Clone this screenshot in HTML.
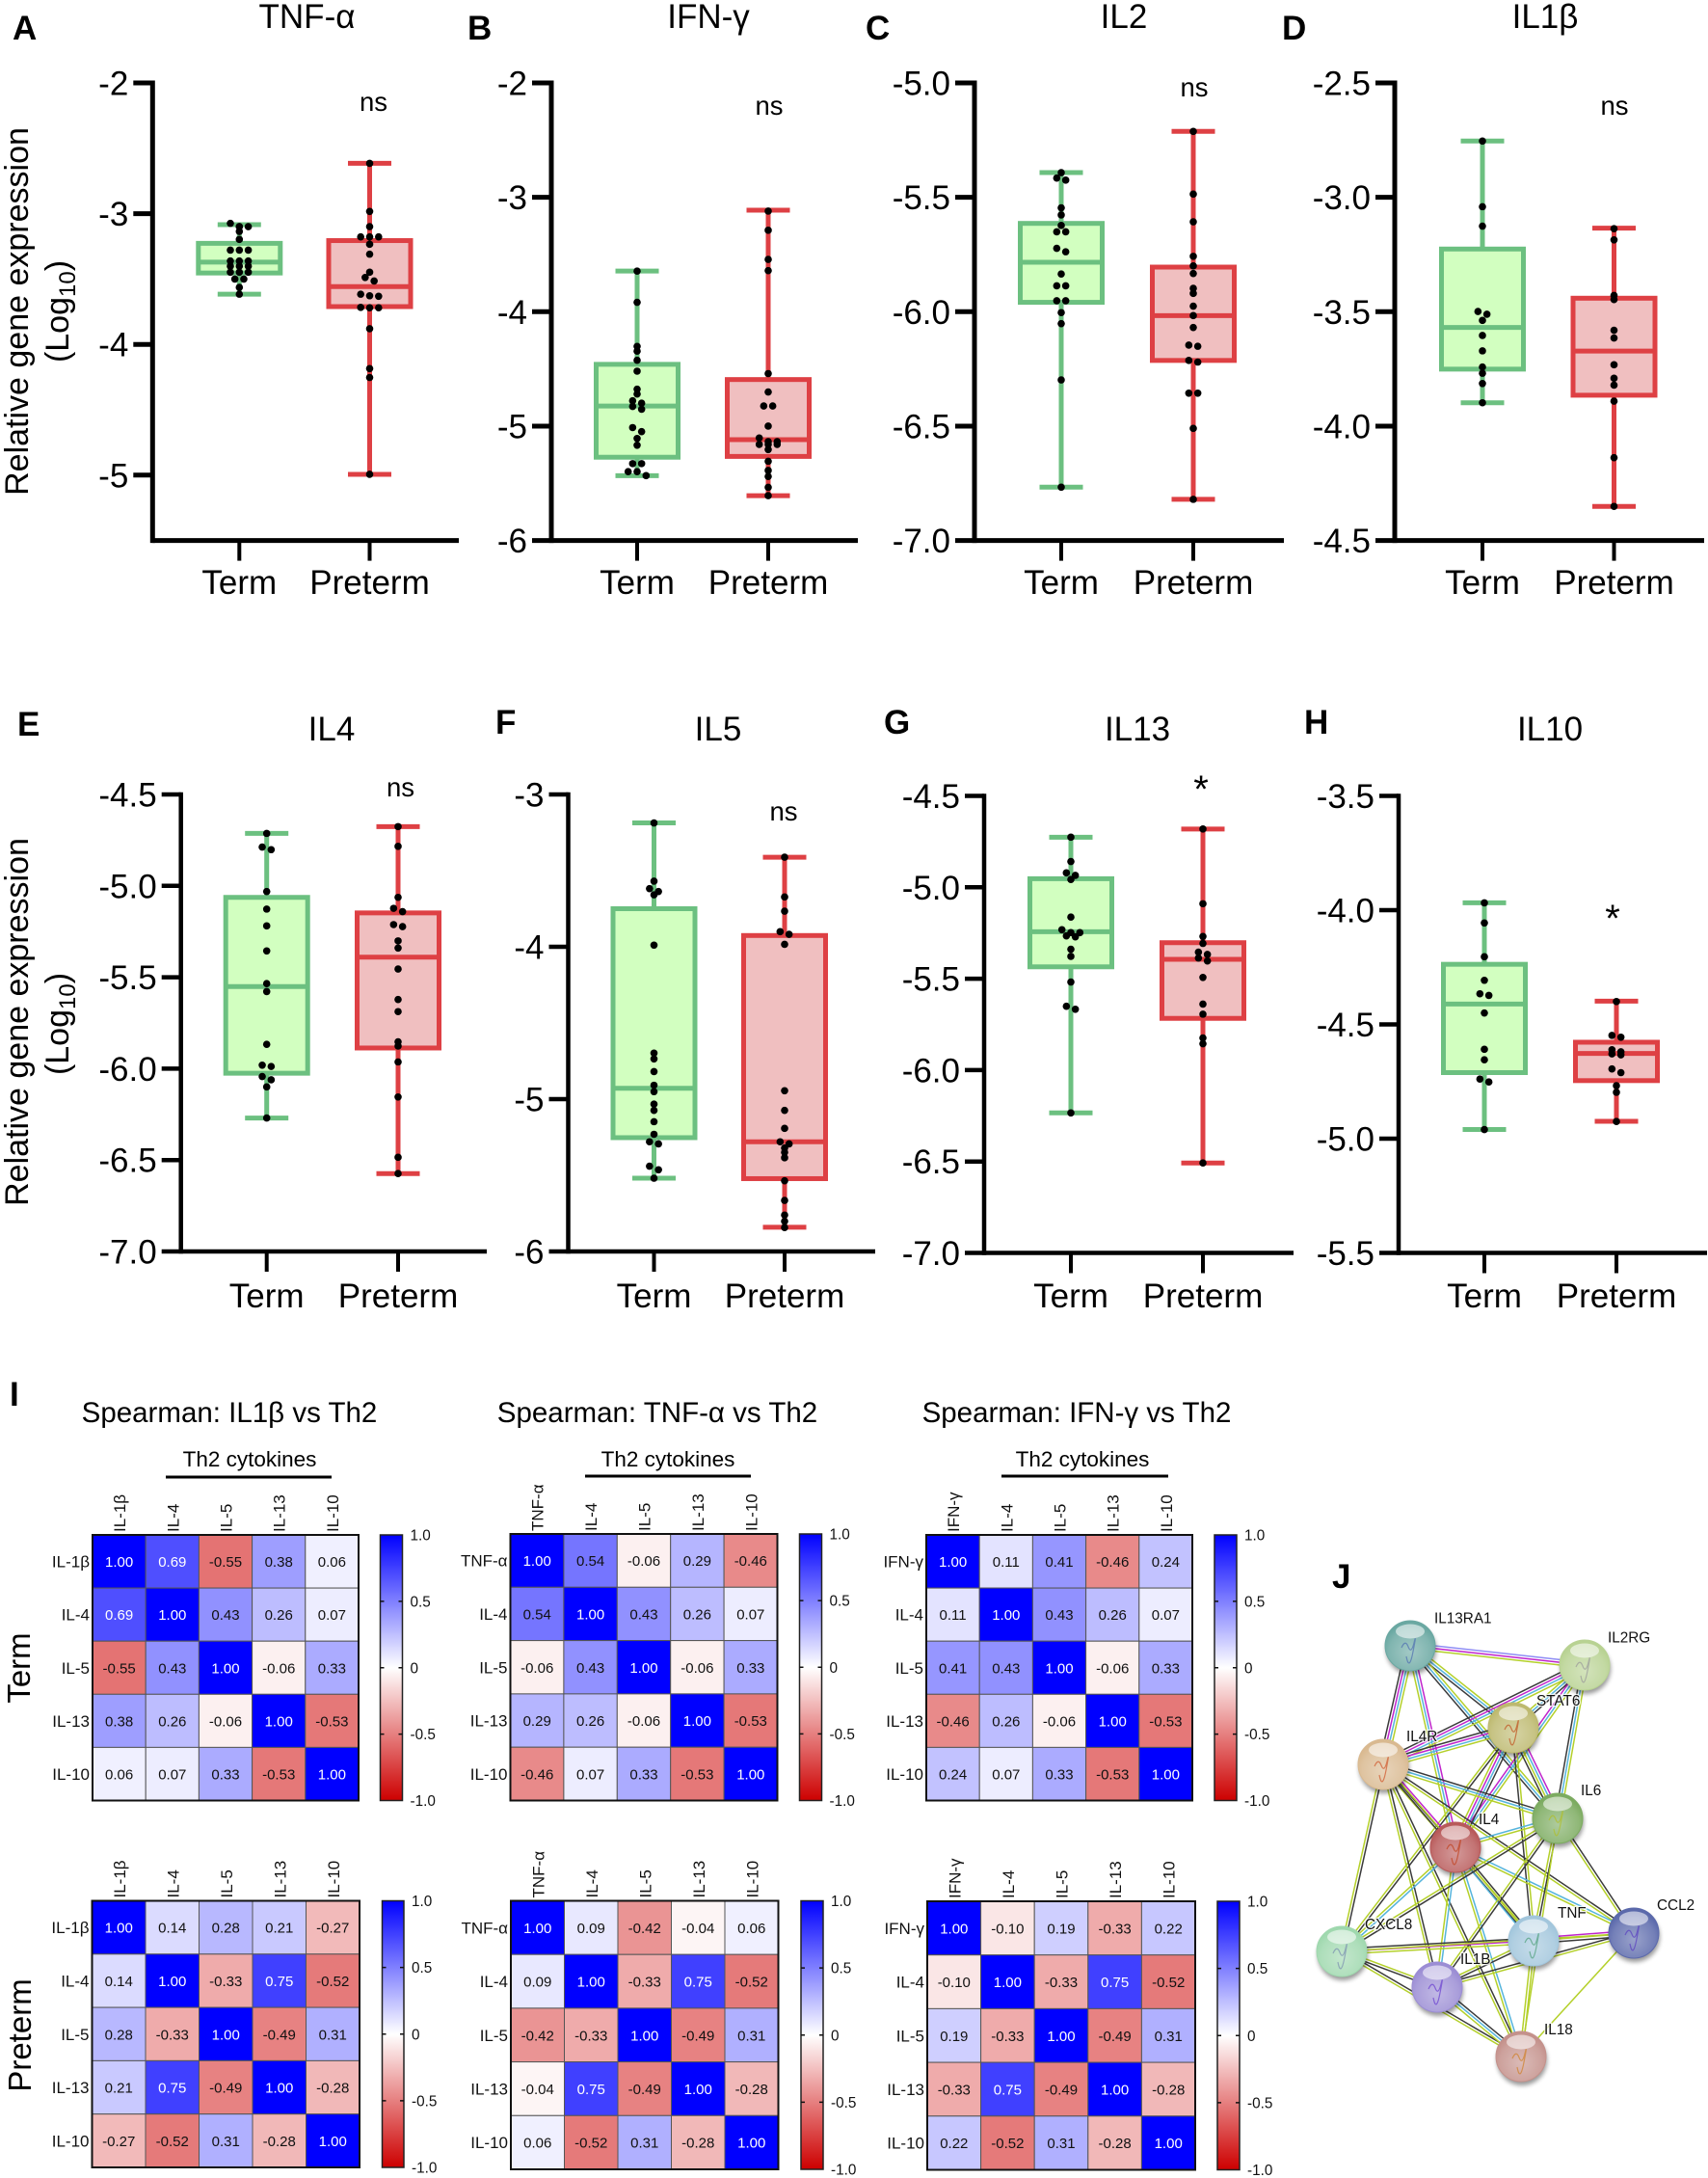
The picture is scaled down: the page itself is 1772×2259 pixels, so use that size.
<!DOCTYPE html>
<html lang="en">
<head>
<meta charset="utf-8">
<title>Cytokine gene expression, correlation and interaction network</title>
<style>
html,body{margin:0;padding:0;background:#fff;}
svg{display:block;font-family:"Liberation Sans",Arial,sans-serif;}
.letter{font-size:35px;font-weight:700;fill:#000;}
.ptitle{font-size:35px;text-anchor:middle;fill:#000;}
.ns{font-size:27.5px;text-anchor:middle;fill:#000;}
.star{font-size:40px;text-anchor:middle;fill:#000;}
.ylab{font-size:34px;text-anchor:middle;fill:#000;}
.sp{font-size:29.5px;text-anchor:middle;fill:#000;}
.th2{font-size:22.5px;text-anchor:middle;fill:#000;}
.side{font-size:33px;text-anchor:middle;fill:#000;}
</style>
</head>
<body>
<svg id="figure" width="1772" height="2259" viewBox="0 0 1772 2259" xmlns="http://www.w3.org/2000/svg">
<rect x="0" y="0" width="1772" height="2259" fill="#fff"/>
<defs>
<linearGradient id="cbar" x1="0" y1="0" x2="0" y2="1">
<stop offset="0" stop-color="#0000ff"/><stop offset="0.5" stop-color="#ffffff"/><stop offset="1" stop-color="#cd0000"/>
</linearGradient>
<filter id="soft" x="-30%" y="-30%" width="160%" height="160%"><feGaussianBlur stdDeviation="2.5"/></filter>
</defs>

<text class="letter" x="13" y="41">A</text>
<text class="letter" x="485" y="41">B</text>
<text class="letter" x="898" y="41">C</text>
<text class="letter" x="1330" y="41">D</text>
<text class="letter" x="18" y="763">E</text>
<text class="letter" x="514" y="761">F</text>
<text class="letter" x="917" y="761">G</text>
<text class="letter" x="1353" y="761">H</text>
<text class="letter" x="10" y="1458">I</text>
<text class="letter" x="1382" y="1647">J</text>

<text class="ptitle" x="318.5" y="29">TNF-α</text>
<text class="ptitle" x="735" y="29">IFN-γ</text>
<text class="ptitle" x="1166" y="29">IL2</text>
<text class="ptitle" x="1603" y="29">IL1β</text>
<text class="ptitle" x="344" y="768">IL4</text>
<text class="ptitle" x="745" y="768">IL5</text>
<text class="ptitle" x="1180" y="768">IL13</text>
<text class="ptitle" x="1608" y="768">IL10</text>

<text class="ns" x="387.5" y="115">ns</text>
<text class="ns" x="798" y="119">ns</text>
<text class="ns" x="1239" y="100">ns</text>
<text class="ns" x="1675" y="119">ns</text>
<text class="ns" x="415.5" y="826">ns</text>
<text class="ns" x="813" y="851">ns</text>
<text class="star" x="1246" y="832">*</text>
<text class="star" x="1673" y="966">*</text>

<text class="ylab" transform="translate(29,323) rotate(-90)">Relative gene expression</text>
<text class="ylab" transform="translate(71,323) rotate(-90)">(Log<tspan font-size="24" dy="7">10</tspan><tspan dy="-7">)</tspan></text>
<text class="ylab" transform="translate(29,1060) rotate(-90)">Relative gene expression</text>
<text class="ylab" transform="translate(71,1062) rotate(-90)">(Log<tspan font-size="24" dy="7">10</tspan><tspan dy="-7">)</tspan></text>

<text class="sp" x="238" y="1475">Spearman: IL1β vs Th2</text>
<text class="sp" x="682" y="1475">Spearman: TNF-α vs Th2</text>
<text class="sp" x="1117" y="1475">Spearman: IFN-γ vs Th2</text>
<text class="th2" x="259" y="1521">Th2 cytokines</text>
<text class="th2" x="693" y="1521">Th2 cytokines</text>
<text class="th2" x="1123" y="1521">Th2 cytokines</text>
<line x1="172" x2="344" y1="1532" y2="1532" stroke="#000" stroke-width="3"/>
<line x1="607" x2="779" y1="1531" y2="1531" stroke="#000" stroke-width="3"/>
<line x1="1039" x2="1212" y1="1531" y2="1531" stroke="#000" stroke-width="3"/>
<text class="side" transform="translate(31,1730) rotate(-90)">Term</text>
<text class="side" transform="translate(32,2111) rotate(-90)">Preterm</text>

<g id="boxplots"></g>
<g id="heatmaps"></g>
<g id="network"></g>
</svg>

<script>
// ---------- Box plot data (log10 expression) ----------
const groupLabels = ['Term', 'Preterm'];

const ticksA = ['-2', '-3', '-4', '-5'];
const ticksB = ['-2', '-3', '-4', '-5', '-6'];
const ticksC = ['-5.0', '-5.5', '-6.0', '-6.5', '-7.0'];
const ticksD = ['-2.5', '-3.0', '-3.5', '-4.0', '-4.5'];
const ticksE = ['-4.5', '-5.0', '-5.5', '-6.0', '-6.5', '-7.0'];
const ticksF = ['-3', '-4', '-5', '-6'];
const ticksG = ['-4.5', '-5.0', '-5.5', '-6.0', '-6.5', '-7.0'];
const ticksH = ['-3.5', '-4.0', '-4.5', '-5.0', '-5.5'];

const domainA = [-2, -5.5];
const domainB = [-2, -6];
const domainC = [-5, -7];
const domainD = [-2.5, -4.5];
const domainE = [-4.5, -7];
const domainF = [-3, -6];
const domainG = [-4.5, -7];
const domainH = [-3.5, -5.5];

// whisker-high, q3, median, q1, whisker-low
const statsATerm = [-3.084, -3.227, -3.371, -3.454, -3.616];
const statsAPreterm = [-2.615, -3.206, -3.558, -3.711, -4.994];
const statsBTerm = [-3.645, -4.46, -4.824, -5.272, -5.433];
const statsBPreterm = [-3.113, -4.593, -5.118, -5.265, -5.608];
const statsCTerm = [-5.392, -5.614, -5.784, -5.959, -6.767];
const statsCPreterm = [-5.212, -5.805, -6.017, -6.213, -6.82];
const statsDTerm = [-2.754, -3.226, -3.569, -3.751, -3.898];
const statsDPreterm = [-3.135, -3.441, -3.672, -3.865, -4.351];
const statsETerm = [-4.713, -5.063, -5.551, -6.025, -6.27];
const statsEPreterm = [-4.676, -5.148, -5.39, -5.887, -6.574];
const statsFTerm = [-3.187, -3.75, -4.929, -5.253, -5.519];
const statsFPreterm = [-3.412, -3.926, -5.28, -5.522, -5.841];
const statsGTerm = [-4.726, -4.953, -5.243, -5.435, -6.234];
const statsGPreterm = [-4.681, -5.303, -5.394, -5.717, -6.508];
const statsHTerm = [-3.968, -4.237, -4.411, -4.711, -4.96];
const statsHPreterm = [-4.398, -4.578, -4.627, -4.746, -4.924];

const dotsATerm = [-3.074, -3.099, -3.099, -3.099, -3.136, -3.197, -3.279, -3.279, -3.279, -3.362, -3.362, -3.362, -3.402, -3.402, -3.402, -3.448, -3.448, -3.448, -3.5, -3.5, -3.564, -3.616];
const dotsAPreterm = [-2.615, -2.983, -3.099, -3.178, -3.178, -3.178, -3.234, -3.31, -3.448, -3.488, -3.515, -3.616, -3.628, -3.632, -3.717, -3.72, -3.72, -3.88, -4.185, -4.253, -4.994];
const dotsBTerm = [-3.645, -3.918, -4.303, -4.345, -4.425, -4.52, -4.677, -4.72, -4.779, -4.8, -4.828, -4.852, -5.013, -5.048, -5.108, -5.167, -5.328, -5.328, -5.398, -5.398, -5.433];
const dotsBPreterm = [-3.12, -3.288, -3.543, -3.641, -4.541, -4.702, -4.824, -4.824, -5.0, -5.104, -5.136, -5.136, -5.16, -5.16, -5.16, -5.205, -5.307, -5.388, -5.44, -5.535, -5.608];
const dotsCTerm = [-5.392, -5.416, -5.425, -5.546, -5.577, -5.623, -5.651, -5.651, -5.723, -5.738, -5.835, -5.887, -5.887, -5.952, -5.952, -6.004, -6.052, -6.298, -6.767];
const dotsCPreterm = [-5.212, -5.486, -5.607, -5.758, -5.8, -5.833, -5.898, -5.92, -5.976, -6.017, -6.069, -6.146, -6.151, -6.213, -6.22, -6.356, -6.356, -6.51, -6.82];
const dotsDTerm = [-2.754, -3.041, -3.126, -3.499, -3.511, -3.538, -3.604, -3.671, -3.742, -3.769, -3.814, -3.898];
const dotsDPreterm = [-3.137, -3.186, -3.429, -3.447, -3.581, -3.615, -3.732, -3.791, -3.821, -3.891, -4.138, -4.351];
const dotsETerm = [-4.713, -4.788, -4.802, -5.031, -5.127, -5.219, -5.356, -5.535, -5.578, -5.867, -5.981, -5.988, -6.043, -6.061, -6.1, -6.27];
const dotsEPreterm = [-4.676, -4.784, -5.063, -5.123, -5.141, -5.212, -5.223, -5.301, -5.34, -5.455, -5.622, -5.688, -5.853, -5.876, -5.963, -6.155, -6.485, -6.574];
const dotsFTerm = [-3.187, -3.569, -3.618, -3.637, -3.659, -3.989, -4.698, -4.736, -4.819, -4.909, -4.951, -5.033, -5.074, -5.148, -5.231, -5.28, -5.294, -5.44, -5.464, -5.519];
const dotsFPreterm = [-3.412, -3.673, -3.766, -3.901, -3.918, -3.984, -4.945, -5.074, -5.192, -5.28, -5.294, -5.321, -5.349, -5.385, -5.536, -5.665, -5.761, -5.802, -5.843];
const dotsGTerm = [-4.726, -4.859, -4.921, -4.935, -4.957, -5.163, -5.232, -5.248, -5.248, -5.266, -5.271, -5.339, -5.378, -5.518, -5.651, -5.667, -6.234];
const dotsGPreterm = [-4.681, -5.09, -5.269, -5.307, -5.355, -5.367, -5.387, -5.403, -5.493, -5.639, -5.694, -5.824, -5.856, -6.508];
const dotsHTerm = [-3.968, -4.056, -4.204, -4.307, -4.366, -4.373, -4.45, -4.609, -4.655, -4.739, -4.752, -4.96];
const dotsHPreterm = [-4.4, -4.548, -4.556, -4.611, -4.62, -4.629, -4.633, -4.695, -4.711, -4.768, -4.797, -4.925];

// ---------- Heatmap data ----------
const labelsIL1B = ['IL-1β', 'IL-4', 'IL-5', 'IL-13', 'IL-10'];
const labelsTNFA = ['TNF-α', 'IL-4', 'IL-5', 'IL-13', 'IL-10'];
const labelsIFNG = ['IFN-γ', 'IL-4', 'IL-5', 'IL-13', 'IL-10'];
const colorbarValues = [1, 0.5, 0, -0.5, -1];
const colorbarLabels = ['1.0', '0.5', '0', '-0.5', '-1.0'];

const matrixTermIL1B = [
  [1.00, 0.69, -0.55, 0.38, 0.06],
  [0.69, 1.00, 0.43, 0.26, 0.07],
  [-0.55, 0.43, 1.00, -0.06, 0.33],
  [0.38, 0.26, -0.06, 1.00, -0.53],
  [0.06, 0.07, 0.33, -0.53, 1.00]
];
const matrixTermTNFA = [
  [1.00, 0.54, -0.06, 0.29, -0.46],
  [0.54, 1.00, 0.43, 0.26, 0.07],
  [-0.06, 0.43, 1.00, -0.06, 0.33],
  [0.29, 0.26, -0.06, 1.00, -0.53],
  [-0.46, 0.07, 0.33, -0.53, 1.00]
];
const matrixTermIFNG = [
  [1.00, 0.11, 0.41, -0.46, 0.24],
  [0.11, 1.00, 0.43, 0.26, 0.07],
  [0.41, 0.43, 1.00, -0.06, 0.33],
  [-0.46, 0.26, -0.06, 1.00, -0.53],
  [0.24, 0.07, 0.33, -0.53, 1.00]
];
const matrixPretermIL1B = [
  [1.00, 0.14, 0.28, 0.21, -0.27],
  [0.14, 1.00, -0.33, 0.75, -0.52],
  [0.28, -0.33, 1.00, -0.49, 0.31],
  [0.21, 0.75, -0.49, 1.00, -0.28],
  [-0.27, -0.52, 0.31, -0.28, 1.00]
];
const matrixPretermTNFA = [
  [1.00, 0.09, -0.42, -0.04, 0.06],
  [0.09, 1.00, -0.33, 0.75, -0.52],
  [-0.42, -0.33, 1.00, -0.49, 0.31],
  [-0.04, 0.75, -0.49, 1.00, -0.28],
  [0.06, -0.52, 0.31, -0.28, 1.00]
];
const matrixPretermIFNG = [
  [1.00, -0.10, 0.19, -0.33, 0.22],
  [-0.10, 1.00, -0.33, 0.75, -0.52],
  [0.19, -0.33, 1.00, -0.49, 0.31],
  [-0.33, 0.75, -0.49, 1.00, -0.28],
  [0.22, -0.52, 0.31, -0.28, 1.00]
];

// ---------- Network data ----------
const networkEdges = [
  ['IL13RA1', 'IL2RG', 'pmy'], ['IL13RA1', 'IL4R', 'ybmk'], ['IL13RA1', 'IL4', 'mby'],
  ['IL13RA1', 'STAT6', 'ybk'], ['IL13RA1', 'IL6', 'ybk'], ['IL2RG', 'STAT6', 'kby'],
  ['IL2RG', 'IL4R', 'ybmk'], ['IL2RG', 'IL6', 'ybk'], ['IL2RG', 'IL4', 'ybm'],
  ['STAT6', 'IL4R', 'ybmk'], ['STAT6', 'IL6', 'mbyk'], ['STAT6', 'IL4', 'kbmy'],
  ['STAT6', 'TNF', 'yk'], ['STAT6', 'CXCL8', 'ky'], ['IL4R', 'IL6', 'kby'],
  ['IL4R', 'IL4', 'mky'], ['IL4R', 'TNF', 'yk'], ['IL4R', 'CCL2', 'ky'],
  ['IL4R', 'CXCL8', 'ky'], ['IL4R', 'IL1B', 'ky'], ['IL4R', 'IL18', 'ky'],
  ['IL4', 'IL6', 'by'], ['IL4', 'CCL2', 'by'], ['IL4', 'TNF', 'kyb'],
  ['IL4', 'CXCL8', 'by'], ['IL4', 'IL1B', 'by'], ['IL4', 'IL18', 'by'],
  ['IL6', 'TNF', 'ky'], ['IL6', 'CCL2', 'ky'], ['IL6', 'CXCL8', 'ky'],
  ['IL6', 'IL1B', 'ky'], ['IL6', 'IL18', 'y'], ['TNF', 'CCL2', 'myk'],
  ['TNF', 'CXCL8', 'ymk'], ['TNF', 'IL1B', 'ky'], ['TNF', 'IL18', 'yy'],
  ['CXCL8', 'CCL2', 'y'], ['CXCL8', 'IL1B', 'yk'], ['CXCL8', 'IL18', 'ky'],
  ['IL1B', 'IL18', 'kby'], ['IL1B', 'CCL2', 'ky'], ['CCL2', 'IL18', 'y']
];

// ---------- Layout (pixels / styling only) ----------
const NS = 'http://www.w3.org/2000/svg';
const boxLayouts = [
  {id: 'a', axisX: 158.3, endX: 476, top: 86, bottom: 560.6, xs: [248.3, 383.5], labelY: 616, sw: 5},
  {id: 'b', axisX: 572, endX: 890, top: 86, bottom: 560.6, xs: [661, 797], labelY: 616, sw: 5},
  {id: 'c', axisX: 1011, endX: 1332, top: 86, bottom: 560.6, xs: [1101, 1238], labelY: 616, sw: 5},
  {id: 'd', axisX: 1447, endX: 1768, top: 86, bottom: 560.6, xs: [1538, 1674.5], labelY: 616, sw: 5},
  {id: 'e', axisX: 187.7, endX: 505, top: 824, bottom: 1298, xs: [276.7, 413], labelY: 1356, sw: 4.5},
  {id: 'f', axisX: 589.5, endX: 908, top: 824, bottom: 1298, xs: [678.5, 814], labelY: 1356, sw: 4.5},
  {id: 'g', axisX: 1021, endX: 1342, top: 825.5, bottom: 1299.5, xs: [1111, 1248], labelY: 1356, sw: 4.5},
  {id: 'h', axisX: 1451, endX: 1771, top: 825.5, bottom: 1299.5, xs: [1540, 1677], labelY: 1356, sw: 4.5}
];
const boxData = {
  a: {ticks: ticksA, domain: domainA, stats: [statsATerm, statsAPreterm], dots: [dotsATerm, dotsAPreterm]},
  b: {ticks: ticksB, domain: domainB, stats: [statsBTerm, statsBPreterm], dots: [dotsBTerm, dotsBPreterm]},
  c: {ticks: ticksC, domain: domainC, stats: [statsCTerm, statsCPreterm], dots: [dotsCTerm, dotsCPreterm]},
  d: {ticks: ticksD, domain: domainD, stats: [statsDTerm, statsDPreterm], dots: [dotsDTerm, dotsDPreterm]},
  e: {ticks: ticksE, domain: domainE, stats: [statsETerm, statsEPreterm], dots: [dotsETerm, dotsEPreterm]},
  f: {ticks: ticksF, domain: domainF, stats: [statsFTerm, statsFPreterm], dots: [dotsFTerm, dotsFPreterm]},
  g: {ticks: ticksG, domain: domainG, stats: [statsGTerm, statsGPreterm], dots: [dotsGTerm, dotsGPreterm]},
  h: {ticks: ticksH, domain: domainH, stats: [statsHTerm, statsHPreterm], dots: [dotsHTerm, dotsHPreterm]}
};
const groupStyles = [
  {stroke: '#6cc080', fill: '#d2ffc0'},
  {stroke: '#de4044', fill: '#f0bfc0'}
];
const BOX_HALF = 42.5;
const CAP_HALF = 22.5;
const DOT_R = 3.8;
const DOT_STEP = 9.3;

function make(tag, attrs, parent) {
  const e = document.createElementNS(NS, tag);
  for (const k in attrs) e.setAttribute(k, attrs[k]);
  parent.appendChild(e);
  return e;
}

function swarm(values, scale) {
  const sorted = values.slice().sort(function (a, b) { return b - a; });
  const out = [];
  let group = [];
  function flush() {
    group.forEach(function (v, i) {
      out.push({v: v, off: (i - (group.length - 1) / 2) * DOT_STEP});
    });
    group = [];
  }
  sorted.forEach(function (v) {
    if (group.length && (scale(v) - scale(group[0]) > 4.2 || group.length >= 3)) flush();
    group.push(v);
  });
  flush();
  return out;
}

function drawBoxPanel(layout) {
  const data = boxData[layout.id];
  const root = document.getElementById('boxplots');
  const g = make('g', {}, root);
  
  
  const yScale = function (v) {
    return layout.top + (v - data.domain[0]) / (data.domain[1] - data.domain[0]) * (layout.bottom - layout.top);
  };

  const yAxis = make('line', {x1: layout.axisX, x2: layout.axisX, y1: layout.top - layout.sw / 2, y2: layout.bottom + layout.sw / 2, stroke: '#000', 'stroke-width': layout.sw}, g);
  
  
  const xAxis = make('line', {x1: layout.axisX, x2: layout.endX, y1: layout.bottom, y2: layout.bottom, stroke: '#000', 'stroke-width': layout.sw}, g);
  
  

  data.ticks.forEach(function (label) {
    const y = yScale(parseFloat(label));
    const tick = make('line', {x1: layout.axisX - 20, x2: layout.axisX, y1: y, y2: y, stroke: '#000', 'stroke-width': layout.sw}, g);
    
    
    const t = make('text', {x: layout.axisX - 25, y: y + 12.5, 'text-anchor': 'end', 'font-size': 35, fill: '#000'}, g);
    
    
    t.textContent = label;
  });

  groupLabels.forEach(function (name, i) {
    const x = layout.xs[i];
    const stats = data.stats[i];
    const style = groupStyles[i];
    const tick = make('line', {x1: x, x2: x, y1: layout.bottom, y2: layout.bottom + 21, stroke: '#000', 'stroke-width': 4}, g);
    
    
    const lab = make('text', {x: x, y: layout.labelY, 'text-anchor': 'middle', 'font-size': 35, fill: '#000'}, g);
    
    
    lab.textContent = name;

    const box = make('g', {}, g);
    
    
    const yHi = yScale(stats[0]), yQ3 = yScale(stats[1]), yMed = yScale(stats[2]), yQ1 = yScale(stats[3]), yLo = yScale(stats[4]);
    make('line', {x1: x, x2: x, y1: yHi, y2: yLo, stroke: style.stroke, 'stroke-width': 5}, box);
    make('line', {x1: x - CAP_HALF, x2: x + CAP_HALF, y1: yHi, y2: yHi, stroke: style.stroke, 'stroke-width': 5}, box);
    make('line', {x1: x - CAP_HALF, x2: x + CAP_HALF, y1: yLo, y2: yLo, stroke: style.stroke, 'stroke-width': 5}, box);
    make('rect', {x: x - BOX_HALF, y: yQ3, width: BOX_HALF * 2, height: yQ1 - yQ3, fill: style.fill, stroke: style.stroke, 'stroke-width': 5}, box);
    make('line', {x1: x - BOX_HALF, x2: x + BOX_HALF, y1: yMed, y2: yMed, stroke: style.stroke, 'stroke-width': 5}, box);

    swarm(data.dots[i], yScale).forEach(function (d) {
      const c = make('circle', {cx: x + d.off, cy: yScale(d.v), r: DOT_R, fill: '#000'}, g);
      
      
    });
  });
}
boxLayouts.forEach(drawBoxPanel);

// ---------- Heatmaps ----------
const heatLayouts = [
  {name: 'term-il1b', x0: 96, x1: 372, y0: 1592, y1: 1867.5, bx0: 394.5, bx1: 417.5, labels: labelsIL1B, matrix: matrixTermIL1B},
  {name: 'term-tnfa', x0: 529.5, x1: 806.5, y0: 1591, y1: 1867.5, bx0: 829.5, bx1: 852.5, labels: labelsTNFA, matrix: matrixTermTNFA},
  {name: 'term-ifng', x0: 961, x1: 1237, y0: 1592, y1: 1867.5, bx0: 1260, bx1: 1283, labels: labelsIFNG, matrix: matrixTermIFNG},
  {name: 'preterm-il1b', x0: 95.5, x1: 373, y0: 1971.5, y1: 2248, bx0: 396.5, bx1: 419, labels: labelsIL1B, matrix: matrixPretermIL1B},
  {name: 'preterm-tnfa', x0: 530, x1: 807.5, y0: 1971.5, y1: 2250, bx0: 831, bx1: 854, labels: labelsTNFA, matrix: matrixPretermTNFA},
  {name: 'preterm-ifng', x0: 962, x1: 1240, y0: 1972, y1: 2250.5, bx0: 1263, bx1: 1286, labels: labelsIFNG, matrix: matrixPretermIFNG}
];

function heatColor(v) {
  const a = Math.min(1, Math.abs(v));
  if (v >= 0) {
    const c = Math.round(255 * (1 - a));
    return 'rgb(' + c + ',' + c + ',255)';
  }
  const r = Math.round(255 - a * 50);
  const c2 = Math.round(255 * (1 - a));
  return 'rgb(' + r + ',' + c2 + ',' + c2 + ')';
}

function drawHeat(h) {
  const root = document.getElementById('heatmaps');
  const g = make('g', {}, root);
  
  
  const n = h.labels.length;
  const cw = (h.x1 - h.x0) / n;
  const ch = (h.y1 - h.y0) / n;
  h.matrix.forEach(function (row, r) {
    row.forEach(function (v, c) {
      const cell = make('rect', {x: h.x0 + c * cw, y: h.y0 + r * ch, width: cw, height: ch, fill: heatColor(v), stroke: '#555', 'stroke-width': 1}, g);
      
      
      const t = make('text', {x: h.x0 + (c + 0.5) * cw, y: h.y0 + (r + 0.5) * ch + 5.5, 'text-anchor': 'middle', 'font-size': 15, fill: v >= 0.65 ? '#fff' : '#111'}, g);
      
      
      t.textContent = v.toFixed(2);
    });
  });
  const border = make('rect', {x: h.x0, y: h.y0, width: h.x1 - h.x0, height: h.y1 - h.y0, fill: 'none', stroke: '#111', 'stroke-width': 2}, g);
  
  
  h.labels.forEach(function (label, i) {
    const rowLab = make('text', {x: h.x0 - 3, y: h.y0 + (i + 0.5) * ch + 6, 'text-anchor': 'end', 'font-size': 17, fill: '#111'}, g);
    
    
    rowLab.textContent = label;
    const cx = h.x0 + (i + 0.5) * cw + 6.5;
    const colLab = make('text', {transform: 'translate(' + cx + ',' + (h.y0 - 3) + ') rotate(-90)', 'font-size': 17, fill: '#111'}, g);
    
    
    colLab.textContent = label;
  });
  const bar = make('rect', {x: h.bx0, y: h.y0, width: h.bx1 - h.bx0, height: h.y1 - h.y0, fill: 'url(#cbar)', stroke: '#222', 'stroke-width': 1.5}, g);
  
  
  colorbarValues.forEach(function (v, i) {
    const y = h.y0 + (1 - v) / 2 * (h.y1 - h.y0);
    if (v !== 1 && v !== -1) {
      make('line', {x1: h.bx0, x2: h.bx0 + 4, y1: y, y2: y, stroke: '#111', 'stroke-width': 1.5}, g);
      make('line', {x1: h.bx1 - 4, x2: h.bx1, y1: y, y2: y, stroke: '#111', 'stroke-width': 1.5}, g);
    }
    const t = make('text', {x: h.bx1 + 8, y: y + 5.5, 'font-size': 15.3, fill: '#111'}, g);
    
    
    t.textContent = colorbarLabels[i];
  });
}
heatLayouts.forEach(drawHeat);

// ---------- Network ----------
const nodeLayout = {
  IL13RA1: {x: 1463, y: 1707, c: '#6aa8a2', lx: 1488, ly: 1683.5, s: '#4f6fb0'},
  IL2RG: {x: 1644, y: 1727, c: '#b8d292', lx: 1668, ly: 1703.5, s: '#9a9a9a'},
  STAT6: {x: 1570, y: 1792, c: '#bdb96f', lx: 1594, ly: 1769, s: '#c0501c'},
  IL4R: {x: 1435, y: 1830, c: '#d9b990', lx: 1459, ly: 1806, s: '#d0562a'},
  IL6: {x: 1616, y: 1886, c: '#7cab60', lx: 1640, ly: 1862, s: '#b0bf28'},
  IL4: {x: 1510, y: 1916, c: '#b85a5a', lx: 1534, ly: 1892, s: '#c0401c'},
  TNF: {x: 1591, y: 2013, c: '#a2c6dc', lx: 1616, ly: 1989, s: '#4fa07a'},
  CCL2: {x: 1695, y: 2005, c: '#5b69ab', lx: 1719, ly: 1981, s: '#5a3fc0'},
  CXCL8: {x: 1392, y: 2024, c: '#9fd8ae', lx: 1416, ly: 2001, s: '#7a8fb0'},
  IL1B: {x: 1491, y: 2061, c: '#9b8dd4', lx: 1515, ly: 2037, s: '#6a3fd0'},
  IL18: {x: 1578, y: 2133, c: '#c4918b', lx: 1602, ly: 2110, s: '#d0802a'}
};
const edgeColors = {y: '#b4d02a', k: '#3a3a3a', b: '#55b4dc', m: '#c024cc', p: '#8f8cf5'};

(function drawNetwork() {
  const root = document.getElementById('network');
  const edgeGroup = make('g', {}, root);
  
  
  networkEdges.forEach(function (e) {
    const a = nodeLayout[e[0]], b = nodeLayout[e[1]];
    const dx = b.x - a.x, dy = b.y - a.y, len = Math.sqrt(dx * dx + dy * dy);
    const nx = -dy / len, ny = dx / len;
    const kinds = e[2].split('');
    kinds.forEach(function (k, i) {
      const o = (i - (kinds.length - 1) / 2) * 2.8;
      const l = make('line', {x1: a.x + nx * o, y1: a.y + ny * o, x2: b.x + nx * o, y2: b.y + ny * o, stroke: edgeColors[k], 'stroke-width': 1.5}, edgeGroup);
      
      
    });
  });
  const defs = document.querySelector('defs');
  Object.keys(nodeLayout).forEach(function (name) {
    const n = nodeLayout[name];
    const grad = make('radialGradient', {id: 'grad-' + name, cx: '50%', cy: '62%', r: '56%'}, defs);
    make('stop', {offset: '0', 'stop-color': n.c, 'stop-opacity': '0.62'}, grad);
    make('stop', {offset: '0.75', 'stop-color': n.c, 'stop-opacity': '0.85'}, grad);
    make('stop', {offset: '1', 'stop-color': n.c}, grad);
    const g = make('g', {}, root);
    
    
    make('circle', {cx: n.x + 1, cy: n.y + 4, r: 26, fill: '#000', opacity: 0.4, filter: 'url(#soft)'}, g);
    make('circle', {cx: n.x, cy: n.y, r: 26, fill: '#fff'}, g);
    make('circle', {cx: n.x, cy: n.y, r: 26, fill: 'url(#grad-' + name + ')', stroke: n.c, 'stroke-width': 1}, g);
    make('path', {d: 'M' + (n.x - 9) + ' ' + (n.y + 2) + ' q4 -9 7 -1 t6 -4 t-1 9 t-7 5', fill: 'none', stroke: n.s, 'stroke-width': 1.2, opacity: 0.7}, g);
    make('ellipse', {cx: n.x, cy: n.y - 15, rx: 15, ry: 7.5, fill: '#fff', opacity: 0.55}, g);
  });
  Object.keys(nodeLayout).forEach(function (name) {
    const n = nodeLayout[name];
    const t = make('text', {x: n.lx, y: n.ly, 'font-size': 15.3, fill: '#111', stroke: '#fff', 'stroke-width': 2.5, 'paint-order': 'stroke', 'stroke-opacity': 0.8}, root);
    
    
    t.textContent = name;
  });
})();
</script>
</body>
</html>
